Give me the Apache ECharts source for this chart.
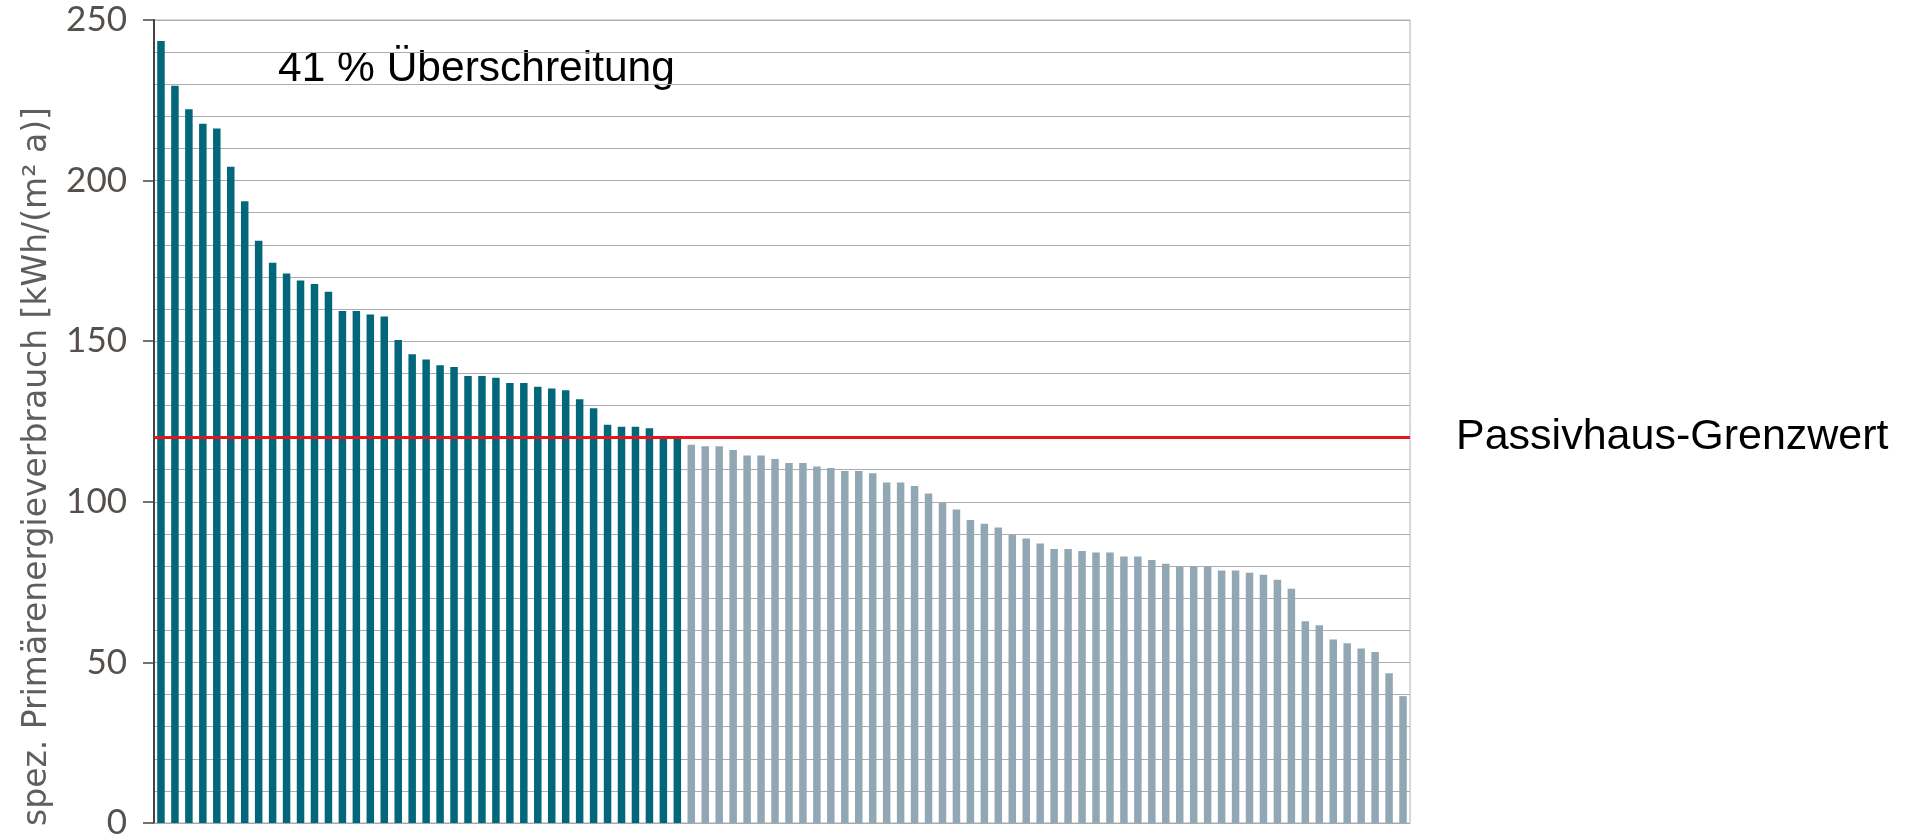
<!DOCTYPE html>
<html>
<head>
<meta charset="utf-8">
<script src="https://cdn.jsdelivr.net/npm/echarts@6/dist/echarts.min.js"></script>
<style>
  html, body { margin: 0; padding: 0; background: #fff; }
  #main { width: 1910px; height: 840px; }
</style>
</head>
<body>
<div id="main"></div>
<script>
// Gebäude über dem Grenzwert (sortiert)
const overLimit = [
  243.5, 229.5, 222.2, 217.7, 216.2, 204.3, 193.6, 181.3, 174.4, 171.1,
  168.9, 167.8, 165.4, 159.4, 159.4, 158.3, 157.7, 150.4, 145.9, 144.3,
  142.5, 142.0, 139.2, 139.2, 138.6, 137.0, 137.0, 135.8, 135.3, 134.7,
  131.9, 129.1, 124.0, 123.4, 123.4, 122.9, 120.3, 120.3
];
// Gebäude unter dem Grenzwert
const underLimit = [
  117.8, 117.3, 117.3, 116.1, 114.4, 114.4, 113.3, 112.1, 112.1, 111.0,
  110.5, 109.6, 109.6, 108.9, 106.0, 106.0, 104.9, 102.6, 99.7, 97.6,
  94.3, 93.2, 92.0, 89.7, 88.6, 87.0, 85.3, 85.3, 84.7, 84.2,
  84.2, 83.0, 83.0, 81.9, 80.7, 79.8, 79.8, 79.8, 78.6, 78.6,
  77.9, 77.3, 75.7, 72.9, 62.8, 61.6, 57.1, 56.0, 54.3, 53.2,
  46.6, 39.5
];
const limitValue = 120;
const yTicks = [0, 50, 100, 150, 200, 250];
const yName = "spez. Primärenergieverbrauch [kWh/(m² a)]";
const overText = "41 % Überschreitung";
const limitText = "Passivhaus-Grenzwert";

const total = overLimit.length + underLimit.length;
const categories = [];
for (let i = 1; i <= total; i++) categories.push(String(i));

const overData = overLimit.concat(underLimit.map(() => null));
const underData = overLimit.map(() => null).concat(underLimit);

const chart = echarts.init(document.getElementById("main"));

const option = {
  animation: false,
  grid: {
    left: 154,
    right: 500,
    top: 20,
    bottom: 17,
    show: true,
    borderColor: "#b0b0b8",
    borderWidth: 1,
    outerBoundsMode: "none",
  },
  xAxis: {
    type: "category",
    data: categories,
    axisLine: { show: true, lineStyle: { color: "#a8a8b0", width: 1 } },
    axisTick: { show: false },
    axisLabel: { show: false },
    splitLine: { show: false },
  },
  yAxis: {
    type: "value",
    min: yTicks[0],
    max: yTicks[yTicks.length - 1],
    interval: 50,
    name: yName,
    nameLocation: "middle",
    nameRotate: 90,
    nameGap: 100,
    nameTextStyle: {
      fontFamily: "DejaVu Sans",
      fontSize: 33,
      color: "#5e5e5e",
      padding: [0, 90, 0, 0],
    },
    axisLine: { show: true, lineStyle: { color: "#444", width: 2 } },
    axisTick: { show: true, length: 11, lineStyle: { color: "#444", width: 1.5 } },
    axisLabel: {
      margin: 27,
      fontFamily: "Lato",
      fontSize: 35,
      color: "#55504c",
    },
    splitLine: { show: true, lineStyle: { color: "#acacb4", width: 1 } },
    minorTick: { show: false, splitNumber: 5 },
    minorSplitLine: { show: true, lineStyle: { color: "#acacb4", width: 1 } },
  },
  graphic: [
    {
      type: "text",
      left: 278,
      top: 48,
      style: {
        text: overText,
        fontFamily: "Liberation Sans",
        fontSize: 42.5,
        fill: "#000",
      },
    },
  ],
  series: [
    {
      name: "über Grenzwert",
      type: "bar",
      data: overData,
      barWidth: 7.5,
      barGap: "-100%",
      itemStyle: { color: "#02677a" },
      markLine: {
        silent: true,
        symbol: "none",
        lineStyle: { color: "#e5141d", width: 3, type: "solid" },
        label: {
          show: true,
          position: "end",
          distance: 46,
          formatter: limitText,
          fontFamily: "Liberation Sans",
          fontSize: 43,
          color: "#000",
        },
        data: [{ yAxis: limitValue }],
      },
    },
    {
      name: "unter Grenzwert",
      type: "bar",
      data: underData,
      barWidth: 7.5,
      barGap: "-100%",
      itemStyle: { color: "#91a8b4" },
    },
  ],
};

chart.setOption(option);
</script>
</body>
</html>
